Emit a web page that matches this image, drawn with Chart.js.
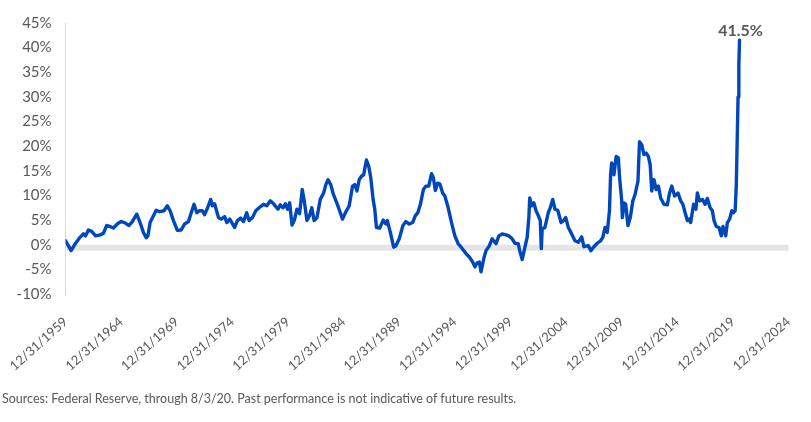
<!DOCTYPE html>
<html><head><meta charset="utf-8">
<script src="https://cdn.jsdelivr.net/npm/chart.js@4"></script>
<style>
html,body{margin:0;padding:0;background:#fff;}
#wrap{position:relative;width:811px;height:422px;overflow:hidden;}
#c{position:absolute;left:0;top:0;}
#src{position:absolute;left:2px;top:391px;font:12.5px Lato, sans-serif;color:#595959;white-space:nowrap;}
</style></head><body>
<div id="wrap"><canvas id="c" width="811" height="422"></canvas>
<div id="src">Sources: Federal Reserve, through 8/3/20. Past performance is not indicative of future results.</div></div>
<script>
// Decimal year of each observation (x) and year-over-year growth in % (y)
const years = [
1960.0,1960.5,1960.87,1961.3,1961.6,1961.8,1962.05,1962.35,1962.7,1963.1,1963.4,1963.7,1964.0,1964.3,1964.7,
1965.0,1965.3,1965.7,1966.0,1966.4,1966.7,1967.0,1967.25,1967.4,1967.6,1967.9,1968.15,1968.45,1968.85,1969.15,
1969.4,1969.7,1970.05,1970.4,1970.7,1971.05,1971.3,1971.55,1971.8,1972.05,1972.3,1972.5,1972.77,1973.05,1973.2,
1973.4,1973.75,1974.0,1974.3,1974.5,1974.76,1975.0,1975.2,1975.45,1975.74,1976.0,1976.28,1976.5,1976.8,1977.1,
1977.5,1977.8,1978.1,1978.4,1978.7,1979.1,1979.3,1979.55,1979.76,1979.97,1980.15,1980.36,1980.56,1980.8,1981.04,
1981.28,1981.46,1981.7,1981.93,1982.14,1982.35,1982.6,1982.9,1983.2,1983.4,1983.6,1983.84,1984.08,1984.4,1984.7,
1984.9,1985.2,1985.5,1985.8,1986.0,1986.2,1986.4,1986.6,1986.8,1987.05,1987.26,1987.44,1987.65,1987.8,1987.95,
1988.25,1988.55,1988.8,1988.93,1989.2,1989.5,1989.7,1990.0,1990.33,1990.6,1990.9,1991.2,1991.45,1991.67,1991.9,
1992.17,1992.4,1992.65,1992.9,1993.07,1993.24,1993.45,1993.66,1993.9,1994.1,1994.4,1994.7,1995.0,1995.3,1995.67,
1996.0,1996.3,1996.6,1996.8,1997.0,1997.2,1997.35,1997.6,1997.8,1998.1,1998.35,1998.7,1998.95,1999.25,1999.6,
1999.85,2000.15,2000.4,2000.7,2000.83,2001.05,2001.3,2001.5,2001.65,2001.73,2001.9,2002.1,2002.3,2002.5,2002.68,
2002.77,2002.85,2003.1,2003.4,2003.57,2003.8,2004.0,2004.25,2004.55,2004.76,2004.97,2005.2,2005.5,2005.8,2006.1,
2006.4,2006.6,2007.0,2007.23,2007.5,2007.8,2008.1,2008.3,2008.5,2008.7,2008.9,2009.0,2009.1,2009.3,2009.5,
2009.7,2009.8,2010.0,2010.06,2010.2,2010.36,2010.56,2010.77,2011.0,2011.2,2011.46,2011.6,2011.8,2012.0,2012.2,
2012.4,2012.56,2012.7,2012.9,2013.1,2013.3,2013.5,2013.8,2014.1,2014.3,2014.5,2014.76,2015.06,2015.3,2015.5,
2015.7,2015.9,2016.07,2016.2,2016.46,2016.67,2016.8,2017.0,2017.26,2017.5,2017.7,2017.95,2018.15,2018.3,2018.5,
2018.75,2018.95,2019.1,2019.35,2019.5,2019.7,2019.9,2020.05,2020.2,2020.3,2020.38,2020.46,2020.53,2020.59
];
const growthPct = [
0.8,-1.2,0.2,1.5,2.2,1.8,3.0,2.7,1.8,2.0,2.3,3.9,3.7,3.4,4.3,
4.7,4.5,3.9,4.7,6.2,4.5,2.5,1.4,1.8,4.5,5.9,7.0,6.7,6.9,7.9,
6.9,4.9,2.9,3.0,4.2,4.7,6.5,8.2,6.5,6.9,6.9,6.1,7.5,9.2,7.9,
8.3,5.5,5.2,5.7,4.5,5.2,4.3,3.5,4.9,5.4,4.7,6.5,4.9,5.5,6.9,
7.7,8.2,7.9,8.9,8.3,7.2,8.1,7.5,8.3,7.2,8.5,4.0,4.9,7.2,6.3,
11.2,8.9,4.9,5.9,7.5,4.9,5.5,9.2,10.5,12.2,13.2,12.2,10.2,8.4,6.5,
5.2,6.7,7.9,11.9,12.2,10.9,13.2,13.9,14.2,17.2,15.9,13.6,9.2,7.2,3.5,
3.4,5.0,4.2,4.9,2.5,-0.5,-0.2,1.2,3.9,4.7,4.2,4.5,5.9,6.5,8.2,
11.2,11.9,11.9,14.4,13.6,11.0,12.5,12.3,10.5,9.9,7.5,4.5,1.8,0.2,-0.8,
-1.8,-2.5,-3.5,-4.5,-3.7,-3.5,-5.5,-2.8,-1.2,-0.2,1.2,0.2,1.8,2.2,2.0,
1.8,1.2,0.3,0.2,-1.2,-3.0,-0.5,1.5,5.5,9.5,7.9,8.5,6.9,5.9,4.9,
-0.8,3.2,3.5,6.5,7.5,9.2,7.2,7.0,4.5,4.9,5.5,3.5,2.2,0.8,0.5,
1.6,-0.4,-0.2,-1.2,-0.4,0.3,0.8,1.5,3.5,2.5,6.9,14.2,16.6,14.2,17.9,
17.6,13.9,8.9,5.5,8.5,8.2,3.9,5.5,8.9,10.2,12.9,20.9,20.3,18.3,18.6,
17.9,16.2,10.9,13.2,11.2,11.9,9.5,8.2,8.1,10.5,11.9,9.9,10.5,8.9,8.2,
6.5,4.9,5.2,4.5,8.2,7.2,10.5,8.9,9.2,8.2,9.4,7.5,6.9,4.9,3.7,
3.5,1.8,3.7,1.8,4.5,5.2,6.9,6.5,6.9,12.0,21.0,30.0,36.5,41.5
];
const xTickYears = [1960,1965,1970,1975,1980,1985,1990,1995,2000,2005,2010,2015,2020,2025];
const yTickValues = [-10,-5,0,5,10,15,20,25,30,35,40,45];

const GRAY = '#595959';
const zeroBand = {
  id: 'zeroBand',
  beforeDatasetsDraw(chart) {
    const a = chart.chartArea;
    const y0 = chart.scales.y.getPixelForValue(0);
    const ctx = chart.ctx;
    ctx.save();
    ctx.fillStyle = '#e5e5e5';
    ctx.fillRect(a.left + 1, y0, a.right - a.left - 1, 6);
    ctx.restore();
  }
};
const peakLabel = {
  id: 'peakLabel',
  afterDatasetsDraw(chart) {
    const meta = chart.getDatasetMeta(0);
    const last = meta.data[meta.data.length - 1];
    const ctx = chart.ctx;
    ctx.save();
    ctx.font = 'bold 16px Lato, sans-serif';
    ctx.fillStyle = GRAY;
    ctx.textAlign = 'center';
    ctx.textBaseline = 'bottom';
    ctx.fillText(growthPct[growthPct.length - 1].toFixed(1) + '%', last.x + 1, last.y - 1);
    ctx.restore();
  }
};

function draw() {
  new Chart(document.getElementById('c'), {
    type: 'line',
    data: {
      datasets: [{
        data: years.map((x, i) => ({x: x, y: growthPct[i]})),
        borderColor: '#0047BB',
        borderWidth: 3.4,
        borderJoinStyle: 'round',
        borderCapStyle: 'round',
        pointRadius: 0,
        tension: 0,
        fill: false
      }]
    },
    options: {
      responsive: false,
      animation: false,
      layout: {padding: {top: 20, right: 21, bottom: 0, left: 0}},
      plugins: {legend: {display: false}, tooltip: {enabled: false}},
      scales: {
        x: {
          type: 'linear', min: 1960, max: 2025,
          afterBuildTicks: s => { s.ticks = xTickYears.map(v => ({value: v})); },
          afterFit: s => { s.height = 128; },
          ticks: {
            autoSkip: false, minRotation: 42, maxRotation: 42, padding: 12,
            font: {family: 'Lato', size: 13}, color: GRAY,
            callback: v => '12/31/' + (v - 1)
          },
          grid: {display: false},
          border: {display: false}
        },
        y: {
          min: -10, max: 45,
          afterBuildTicks: s => { s.ticks = yTickValues.map(v => ({value: v})); },
          afterFit: s => { s.width = 62; },
          ticks: {
            padding: 14, font: {family: 'Lato', size: 15}, color: GRAY,
            callback: v => v + '%'
          },
          grid: {display: false, drawTicks: false},
          border: {display: true, color: '#d9d9d9', width: 1}
        }
      }
    },
    plugins: [zeroBand, peakLabel]
  });
}
Promise.all([
  document.fonts.load('15px Lato'),
  document.fonts.load('bold 16px Lato'),
  document.fonts.load('13px Lato')
]).then(draw, draw);
</script>
</body></html>
